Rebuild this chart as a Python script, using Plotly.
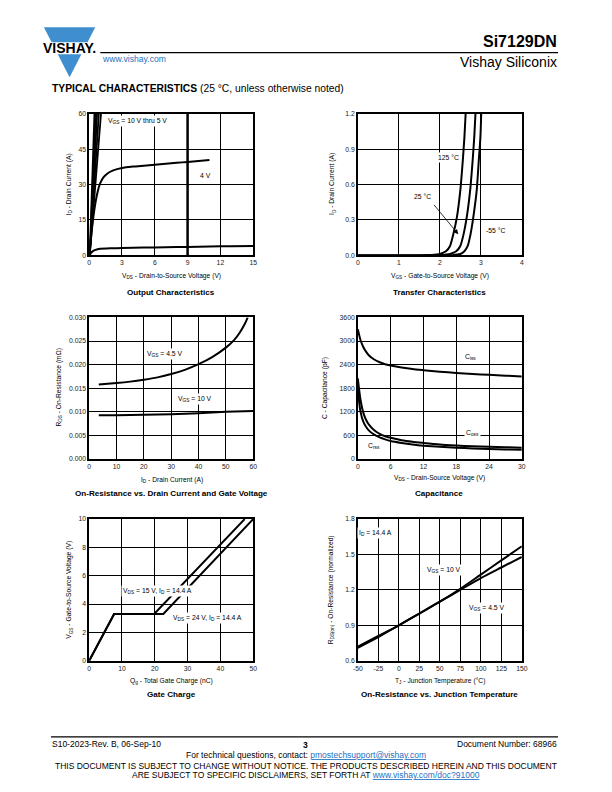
import plotly.graph_objects as go

# ---------------- data ----------------
# Output characteristics (VGS = 10 V thru 5 V, 4 V, 3 V)
out_steep_vds_top = [0.48, 0.60, 0.72, 0.88, 1.08]
out_steep_id = [0, 60]
out_4v_vds = [0, 0.2, 0.4, 0.6, 0.8, 1.0, 1.3, 1.7, 2.2, 3, 4, 5, 6, 7, 8, 9, 10, 11]
out_4v_id = [0, 9, 17, 23, 27.5, 30.5, 33, 34.8, 36, 37, 37.6, 38, 38.4, 38.8, 39.2, 39.6, 40, 40.4]
out_3v_vds = [0, 0.2, 0.4, 0.7, 1, 2, 3, 5, 7, 9, 11, 13, 15]
out_3v_id = [0, 1.2, 2.0, 2.5, 2.8, 3.0, 3.1, 3.3, 3.45, 3.6, 3.75, 3.9, 4.0]

# Transfer characteristics
tr_vgs_125 = [0, 1.4, 1.8, 2.0, 2.15, 2.25, 2.33, 2.42, 2.5, 2.56, 2.6, 2.63]
tr_id_125 = [0, 0, 0.003, 0.012, 0.035, 0.08, 0.18, 0.33, 0.55, 0.8, 1.0, 1.2]
tr_vgs_25 = [0, 1.6, 2.0, 2.25, 2.4, 2.5, 2.58, 2.66, 2.74, 2.8, 2.84, 2.87]
tr_id_25 = [0, 0, 0.002, 0.012, 0.035, 0.08, 0.18, 0.33, 0.55, 0.8, 1.0, 1.2]
tr_vgs_m55 = [0, 1.9, 2.3, 2.5, 2.6, 2.68, 2.75, 2.82, 2.9, 2.95, 2.99, 3.01]
tr_id_m55 = [0, 0, 0.002, 0.012, 0.035, 0.08, 0.18, 0.33, 0.55, 0.8, 1.0, 1.2]

# On-resistance vs drain current
ron_id = [3.5, 10, 15, 20, 25, 30, 35, 40, 45, 50, 53, 55, 57, 58]
ron_45v = [0.0158, 0.0161, 0.0164, 0.0168, 0.0173, 0.0180, 0.0189, 0.0201, 0.0216, 0.0236, 0.0252, 0.0267, 0.0287, 0.0300]
ron_id_10 = [3.5, 10, 20, 30, 40, 50, 60]
ron_10v = [0.0093, 0.0093, 0.0094, 0.0095, 0.0097, 0.0100, 0.0102]

# Capacitance
cap_vds = [0, 0.25, 0.5, 1, 1.5, 2, 3, 4, 5, 6, 8, 10, 12, 15, 18, 21, 24, 27, 30]
cap_ciss = [3300, 3150, 3020, 2850, 2730, 2640, 2530, 2460, 2410, 2380, 2330, 2290, 2260, 2220, 2190, 2160, 2140, 2120, 2100]
cap_coss = [2050, 1750, 1500, 1180, 1000, 880, 730, 640, 580, 540, 480, 440, 410, 370, 345, 325, 310, 300, 290]
cap_crss = [1800, 1450, 1200, 950, 820, 730, 620, 550, 500, 460, 410, 370, 340, 310, 290, 270, 255, 245, 235]

# Gate charge
qg_15v = [0, 7.6, 19.8, 47.4]
vgs_15v = [0, 3.3, 3.3, 10]
qg_24v = [0, 7.6, 22.6, 50]
vgs_24v = [0, 3.3, 3.3, 10]

# On-resistance vs junction temperature (normalized)
tj = [-50, -25, 0, 25, 50, 75, 100, 125, 150]
rt_10v = [0.71, 0.80, 0.90, 1.00, 1.10, 1.21, 1.33, 1.45, 1.57]
rt_45v = [0.72, 0.81, 0.90, 1.00, 1.10, 1.20, 1.30, 1.39, 1.48]
tj_ticks = ["-50", "-25", "0", "25", "50", "75", "100", "125", "150"]

FONT = "Liberation Sans, Arial, sans-serif"
BLUE = "#3e8ed0"
LINK = "#1f6fc0"

# page has an 8 px body margin; size the figure so the page is exactly 612x792
OFF = 8
W, H = 612 - 2 * OFF, 792 - 2 * OFF
KX, KY = 1.025, 1.01   # small stretch to line up with the page layout


def px(x):
    return (306 + (x - 306) * KX - OFF) / W


def py(y):
    return 1 - (396 + (y - 396) * KY - OFF) / H


fig = go.Figure()


def line(x, y, ax, w=2):
    xa, ya = ("x", "y") if ax == 1 else (f"x{ax}", f"y{ax}")
    fig.add_trace(go.Scatter(x=x, y=y, mode="lines", xaxis=xa, yaxis=ya,
                             line=dict(color="black", width=w, shape="spline", smoothing=0.6),
                             showlegend=False, hoverinfo="skip"))


# output characteristics
for top in out_steep_vds_top:
    line([0.05, top], out_steep_id, 1, w=1.8)
line(out_4v_vds, out_4v_id, 1)
line(out_3v_vds, out_3v_id, 1)
# transfer
line(tr_vgs_125, tr_id_125, 2)
line(tr_vgs_25, tr_id_25, 2)
line(tr_vgs_m55, tr_id_m55, 2)
# on-res vs id
line(ron_id, ron_45v, 3)
line(ron_id_10, ron_10v, 3)
# capacitance
line(cap_vds, cap_ciss, 4)
line(cap_vds, cap_coss, 4)
line(cap_vds, cap_crss, 4)
# gate charge
for q, v in [(qg_15v, vgs_15v), (qg_24v, vgs_24v)]:
    fig.add_trace(go.Scatter(x=q, y=v, mode="lines", xaxis="x5", yaxis="y5",
                             line=dict(color="black", width=2),
                             showlegend=False, hoverinfo="skip"))
# on-res vs temp
line(tj, rt_10v, 6)
line(tj, rt_45v, 6)

LX = [px(91), px(254)]
RX = [px(358), px(521)]
ROW = [[py(255), py(113.5)], [py(458.5), py(317)], [py(660), py(518.5)]]


def axis(dom, rng, dtick, anchor, fmt=None):
    d = dict(domain=dom, range=rng, anchor=anchor, showline=True, mirror=True,
             linecolor="black", linewidth=1.5, showgrid=True, gridcolor="black",
             gridwidth=1, zeroline=False, ticks="", fixedrange=True,
             tick0=rng[0], dtick=dtick,
             tickfont=dict(family=FONT, size=6.8, color="#222"))
    if fmt:
        d["tickformat"] = fmt
    return d


x6 = axis(RX, [-50, 150], 25, "y6")
x6.update(tickmode="array", tickvals=tj, ticktext=tj_ticks)

fig.update_layout(
    xaxis=axis(LX, [0, 15], 3, "y"),
    yaxis=axis(ROW[0], [0, 60], 15, "x"),
    xaxis2=axis(RX, [0, 4], 1, "y2"),
    yaxis2=axis(ROW[0], [0, 1.2], 0.3, "x2", ".1f"),
    xaxis3=axis(LX, [0, 60], 10, "y3"),
    yaxis3=axis(ROW[1], [0, 0.03], 0.005, "x3", ".3f"),
    xaxis4=axis(RX, [0, 30], 6, "y4"),
    yaxis4=axis(ROW[1], [0, 3600], 600, "x4"),
    xaxis5=axis(LX, [0, 50], 10, "y5"),
    yaxis5=axis(ROW[2], [0, 10], 2, "x5"),
    xaxis6=x6,
    yaxis6=axis(ROW[2], [0.6, 1.8], 0.3, "x6", ".1f"),
)

ann = []


def note(text, x, y, ref, size=6.8, **kw):
    xr, yr = ("x", "y") if ref == 1 else (f"x{ref}", f"y{ref}")
    ann.append(dict(text=text, x=x, y=y, xref=xr, yref=yr, showarrow=False, bgcolor="white",
                    font=dict(family=FONT, size=size, color="black"), **kw))


def ptext(text, x, y, size=6.5, color="black", xanchor="center", angle=0, bold=False):
    if bold:
        text = f"<b>{text}</b>"
    ann.append(dict(text=text, x=px(x), y=py(y), xref="paper", yref="paper",
                    showarrow=False, xanchor=xanchor, yanchor="middle", textangle=angle,
                    borderpad=0, font=dict(family=FONT, size=size, color=color)))


# in-chart labels
note("V<sub>GS</sub> = 10 V thru 5 V", 4.4, 57, 1)
note("4 V", 10.6, 34, 1)
note("125 °C", 2.2, 0.83, 2)
note("25 °C", 1.58, 0.5, 2)
note("-55 °C", 3.35, 0.21, 2)
ann.append(dict(x=2.45, y=0.18, ax=1.83, ay=0.44, xref="x2", yref="y2", axref="x2", ayref="y2",
                showarrow=True, arrowhead=2, arrowsize=1.2, arrowwidth=0.8, arrowcolor="black", text=""))
note("V<sub>GS</sub> = 4.5 V", 27.7, 0.0222, 3)
note("V<sub>GS</sub> = 10 V", 38.8, 0.0127, 3)
note("C<sub>iss</sub>", 20.6, 2600, 4)
note("C<sub>oss</sub>", 20.9, 650, 4)
note("C<sub>rss</sub>", 2.9, 340, 4)
note("V<sub>DS</sub> = 15 V, I<sub>D</sub> = 14.4 A", 20.9, 4.95, 5)
note("V<sub>DS</sub> = 24 V, I<sub>D</sub> = 14.4 A", 36, 3.05, 5)
note("I<sub>D</sub> = 14.4 A", -29, 1.68, 6)
note("V<sub>GS</sub> = 10 V", 54.7, 1.37, 6)
note("V<sub>GS</sub> = 4.5 V", 107, 1.05, 6)

# axis titles
xt = [("V<sub>DS</sub> - Drain-to-Source Voltage (V)", 172.5, 276),
      ("V<sub>GS</sub> - Gate-to-Source Voltage (V)", 439.5, 276),
      ("I<sub>D</sub> - Drain Current (A)", 173, 479),
      ("V<sub>DS</sub> - Drain-Source Voltage (V)", 439.5, 477),
      ("Q<sub>g</sub> - Total Gate Charge (nC)", 172.5, 680),
      ("T<sub>J</sub> - Junction Temperature (°C)", 439.5, 680)]
for t, x, y in xt:
    ptext(t, x, y, size=6.7)
yt = [("I<sub>D</sub> - Drain Current (A)", 71, 184),
      ("I<sub>D</sub> - Drain Current (A)", 333, 184),
      ("R<sub>DS</sub> - On-Resistance (mΩ)", 61, 387),
      ("C - Capacitance (pF)", 326, 388),
      ("V<sub>GS</sub> - Gate-to-Source Voltage (V)", 71, 589),
      ("R<sub>DS(on)</sub> - On-Resistance (normalized)", 331, 589)]
for t, x, y in yt:
    ptext(t, x, y, size=6.7, angle=-90)

# chart titles
for t, x, y in [("Output Characteristics", 172.5, 292), ("Transfer Characteristics", 439, 292),
                ("On-Resistance vs. Drain Current and Gate Voltage", 173, 493),
                ("Capacitance", 439, 493), ("Gate Charge", 172.5, 694),
                ("On-Resistance vs. Junction Temperature", 439, 694)]:
    ptext(t, x, y, size=8.1, bold=True)

# header
ptext("Si7129DN", 557, 41, size=16, xanchor="right", bold=True)
ptext("Vishay Siliconix", 557, 61.5, size=14, xanchor="right")
ptext("www.vishay.com", 103, 59, size=8.6, color=LINK, xanchor="left")
ptext("<b>TYPICAL CHARACTERISTICS</b> (25 °C, unless otherwise noted)", 53, 88, size=10.3, xanchor="left")
ptext("<b>VISHAY.</b>", 71, 48, size=14)

# footer
ptext("S10-2023-Rev. B, 06-Sep-10", 53, 743, size=8.5, xanchor="left")
ptext("3", 306, 744, size=8.5, bold=True)
ptext("Document Number: 68966", 557, 743, size=8.5, xanchor="right")
ptext("For technical questions, contact: <span style='color:#1f6fc0'><u>pmostechsupport@vishay.com</u></span>",
      306, 754, size=8.5)
ptext("THIS DOCUMENT IS SUBJECT TO CHANGE WITHOUT NOTICE. THE PRODUCTS DESCRIBED HEREIN AND THIS DOCUMENT",
      306, 765, size=8.5)
ptext("ARE SUBJECT TO SPECIFIC DISCLAIMERS, SET FORTH AT <span style='color:#1f6fc0'><u>www.vishay.com/doc?91000</u></span>",
      306, 774, size=8.5)

shapes = [
    # logo triangle and white band
    dict(type="path", xref="paper", yref="paper",
         path=f"M {px(46)} {py(27)} L {px(97)} {py(27)} L {px(71.5)} {py(77)} Z",
         fillcolor=BLUE, line=dict(width=0)),
    dict(type="rect", xref="paper", yref="paper", x0=px(43), x1=px(100), y0=py(54), y1=py(42),
         fillcolor="white", line=dict(width=0)),
    # header / footer rules
    dict(type="line", xref="paper", yref="paper", x0=px(102), x1=px(557), y0=py(52.5), y1=py(52.5),
         line=dict(color="black", width=1.2)),
    dict(type="line", xref="paper", yref="paper", x0=px(53), x1=px(557), y0=py(736), y1=py(736),
         line=dict(color="black", width=1.2)),
    # heavier grid line at 9 V in output chart
    dict(type="line", xref="x", yref="y", x0=9, x1=9, y0=0, y1=60, line=dict(color="black", width=2.5)),
]

fig.update_layout(
    width=W, height=H, autosize=False, margin=dict(l=0, r=0, t=0, b=0),
    paper_bgcolor="white", plot_bgcolor="white",
    annotations=ann, shapes=shapes, showlegend=False,
    font=dict(family=FONT, color="black"),
)

fig.write_html("out.html", config={"displayModeBar": False},
               post_script="document.documentElement.style.overflow='hidden';")
